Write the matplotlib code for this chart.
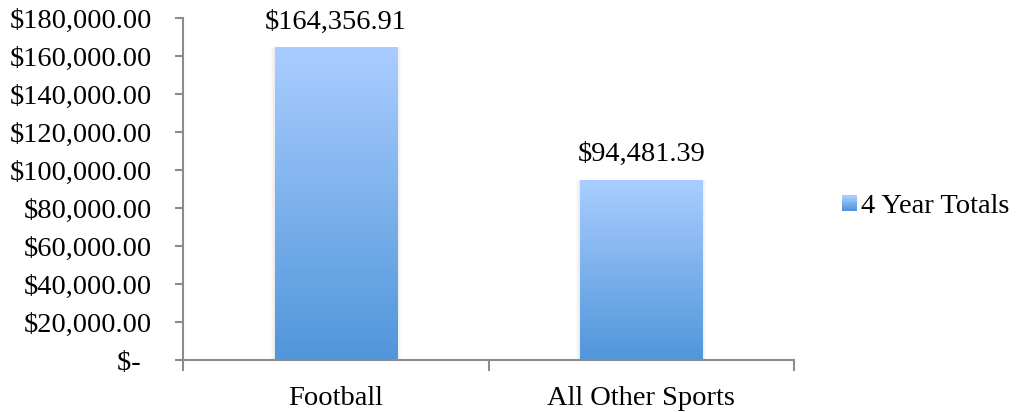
import numpy as np
import matplotlib
matplotlib.use("Agg")
import matplotlib.pyplot as plt
from matplotlib.patches import Rectangle
from matplotlib.legend_handler import HandlerBase
from matplotlib.colors import LinearSegmentedColormap
from matplotlib.ticker import FuncFormatter, FixedLocator

categories = ["Football", "All Other Sports"]
totals = [164356.91, 94481.39]
series_name = "4 Year Totals"
y_ticks = [0, 20000, 40000, 60000, 80000, 100000, 120000, 140000, 160000, 180000]

plt.rcParams['font.family'] = ['Liberation Serif', 'DejaVu Serif']
FS = 20.5

top_col = np.array([170, 205, 255]) / 255
bot_col = np.array([80, 150, 218]) / 255
cmap = LinearSegmentedColormap.from_list("g", [bot_col, top_col])

fig = plt.figure(figsize=(10.16, 4.12), dpi=100)
ax = fig.add_axes([183/1016, 1-360/412, (794-183)/1016, (360-18)/412])

x = np.arange(len(categories))
bars = ax.bar(x, totals, width=0.40, color='none', edgecolor='none', zorder=2)

px_x = (len(categories)) / 611.0
px_y = 180000 / 342.0
grad = np.linspace(0, 1, 256).reshape(-1, 1)
for b in bars:
    x0, w, h = b.get_x(), b.get_width(), b.get_height()
    # soft shadow
    for k in range(1, 5):
        ax.add_patch(Rectangle((x0 - k*px_x, 0), w + 2*k*px_x, h - 3*px_y + k*px_y,
                               color='black', alpha=0.02, lw=0, zorder=1.5))
    ax.imshow(grad, extent=[x0, x0 + w, 0, h], origin='lower', cmap=cmap,
              aspect='auto', zorder=2, interpolation='bilinear')
    ax.text(x0 + w/2, h + 7000, f"${h:,.2f}", ha='center', va='bottom',
            fontsize=FS)

ax.set_xlim(-0.5, len(categories) - 0.5)
ax.set_ylim(0, 180000)
ax.set_yticks(y_ticks)
ax.yaxis.set_major_formatter(FuncFormatter(
    lambda v, p: "$-\u2009\u2009" if v == 0 else f"${v:,.2f}"))
ax.set_xticks(x)
ax.set_xticklabels(categories)
ax.xaxis.set_minor_locator(FixedLocator(np.arange(-0.5, len(categories), 1.0)))

grey = '#8c8c8c'
for s in ['top', 'right']:
    ax.spines[s].set_visible(False)
for s in ['left', 'bottom']:
    ax.spines[s].set_color(grey)
    ax.spines[s].set_linewidth(1.5)
ax.tick_params(axis='y', direction='out', length=6, width=1.5, color=grey,
               labelsize=FS, pad=16.5)
ax.tick_params(axis='x', which='major', length=0, labelsize=FS, pad=19)
ax.tick_params(axis='x', which='minor', direction='out', length=8, width=1.5, color=grey)

SQ = 10.8  # legend square size in points


class GradHandler(HandlerBase):
    def create_artists(self, legend, orig_handle, xdescent, ydescent, width, height,
                       fontsize, trans):
        arts = []
        n = 12
        s = SQ
        x0 = -xdescent
        y0 = -ydescent + (height - s) / 2
        for i in range(n):
            c = cmap(i / (n - 1))
            r = Rectangle((x0, y0 + s * i / n), s, s / n + 0.3, color=c, lw=0,
                          transform=trans)
            arts.append(r)
        return arts


handle = Rectangle((0, 0), 1, 1)
leg = fig.legend([handle], [series_name], handler_map={Rectangle: GradHandler()},
                 loc='center left', bbox_to_anchor=(842/1016, 1-206/412),
                 frameon=False, fontsize=FS, handlelength=SQ/FS, handletextpad=0.15,
                 borderpad=0, borderaxespad=0)

fig.savefig("out.png", dpi=100)
